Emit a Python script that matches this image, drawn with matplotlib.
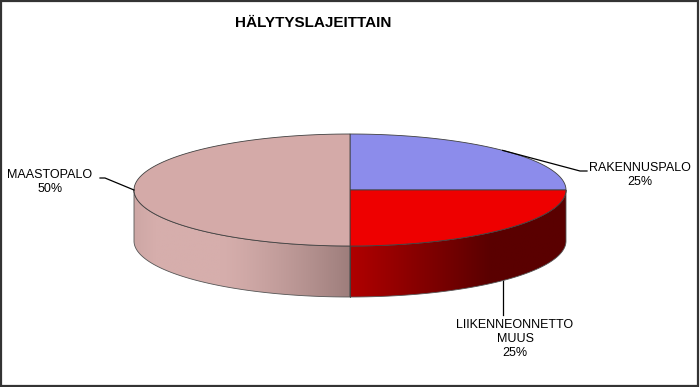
import numpy as np
import matplotlib
matplotlib.use("Agg")
import matplotlib.pyplot as plt
from matplotlib.patches import Polygon, Rectangle
from matplotlib.colors import to_rgb

# data
labels = ["RAKENNUSPALO", "LIIKENNEONNETTO\nMUUS", "MAASTOPALO"]
values = [25, 25, 50]
top_colors = ["#8c8ceb", "#ee0000", "#d4aaa8"]
# side shading: (left colour, right colour) for the visible rim of each slice
side_colors = [("#8c8ceb", "#5a5aa0"), ("#b00000", "#5a0000"), ("#d6aeac", "#9e7e7c")]

plt.rcParams['font.family'] = ['Liberation Sans', 'DejaVu Sans']

fig = plt.figure(figsize=(7, 3.87), dpi=100)
ax = fig.add_axes([0, 0, 1, 1])
ax.set_xlim(0, 700)
ax.set_ylim(387, 0)
ax.axis("off")

cx, cy, rx, ry, depth = 350, 190, 216, 56, 51

def ell(t):
    return cx + rx * np.cos(t), cy - ry * np.sin(t)

fracs = np.array(values) / sum(values)
starts = np.pi / 2 - 2 * np.pi * np.concatenate([[0], np.cumsum(fracs)[:-1]])
ends = starts - 2 * np.pi * fracs

# sides first
for i in range(len(values)):
    a, b = ends[i], starts[i]
    # visible front part: angles between -pi and 0
    lo, hi = max(a, -np.pi), min(b, 0)
    if lo >= hi:
        continue
    t = np.linspace(lo, hi, 100)
    x, y = ell(t)
    pts = np.concatenate([np.column_stack([x, y]), np.column_stack([x[::-1], y[::-1] + depth])])
    poly = Polygon(pts, closed=True, facecolor="none", edgecolor="#555555", lw=0.6, zorder=3)
    ax.add_patch(poly)
    x0, x1 = x.min(), x.max()
    c0, c1 = np.array(to_rgb(side_colors[i][0])), np.array(to_rgb(side_colors[i][1]))
    s = np.linspace(0, 1, 200)
    if i == 2:
        # pink rim: stays light on the left, darkens toward the middle
        w = np.clip((s - 0.4) / 0.6, 0, 1) ** 1.3
        w = np.where(s < 0.1, (0.1 - s) * 1.5, w)
    else:
        w = np.clip(s / 0.65, 0, 1)
    grad = (c0[None, :] * (1 - w[:, None]) + c1[None, :] * w[:, None])[None, :, :]
    im = ax.imshow(grad, extent=[x0, x1, y.max() + depth, y.min()], aspect="auto", zorder=2,
                   interpolation="bilinear")
    clip = Polygon(pts, closed=True, transform=ax.transData)
    im.set_clip_path(clip)

# tops
for i in range(len(values)):
    t = np.linspace(starts[i], ends[i], 100)
    x, y = ell(t)
    pts = np.vstack([[cx, cy], np.column_stack([x, y])])
    ax.add_patch(Polygon(pts, closed=True, facecolor=top_colors[i], edgecolor="#404040", lw=0.6, zorder=4))

# centre seam on the rim
ax.plot([cx, cx], [cy + ry, cy + ry + depth], color="#404040", lw=0.6, zorder=5)

# labels with leader lines
mid = (starts + ends) / 2
lab_txt = [f"{l}\n{int(round(f * 100))}%" for l, f in zip(labels, fracs)]
fs = 9
# RAKENNUSPALO
px, py = ell(mid[0])
ax.plot([px, 580, 587], [py, 171, 171], color="black", lw=0.9, zorder=6)
ax.text(640, 175, lab_txt[0], ha="center", va="center", fontsize=fs, linespacing=1.25)
# LIIKENNEONNETTO MUUS
px, py = ell(mid[1])
ax.plot([px, px], [py + depth, 315], color="black", lw=0.9, zorder=6)
ax.text(515, 339, lab_txt[1], ha="center", va="center", fontsize=fs, linespacing=1.25)
# MAASTOPALO
px, py = ell(mid[2])
ax.plot([px, 105, 100], [py, 178, 178], color="black", lw=0.9, zorder=6)
ax.text(50, 182, lab_txt[2], ha="center", va="center", fontsize=fs, linespacing=1.25)

ax.text(313, 23, "HÄLYTYSLAJEITTAIN", ha="center", va="center", fontsize=11, fontweight="bold")

fig.patches.append(Rectangle((0.001, 0.002), 0.996, 0.995, transform=fig.transFigure,
                             fill=False, edgecolor="#333333", lw=1.6))

fig.savefig("out.png", dpi=100)
